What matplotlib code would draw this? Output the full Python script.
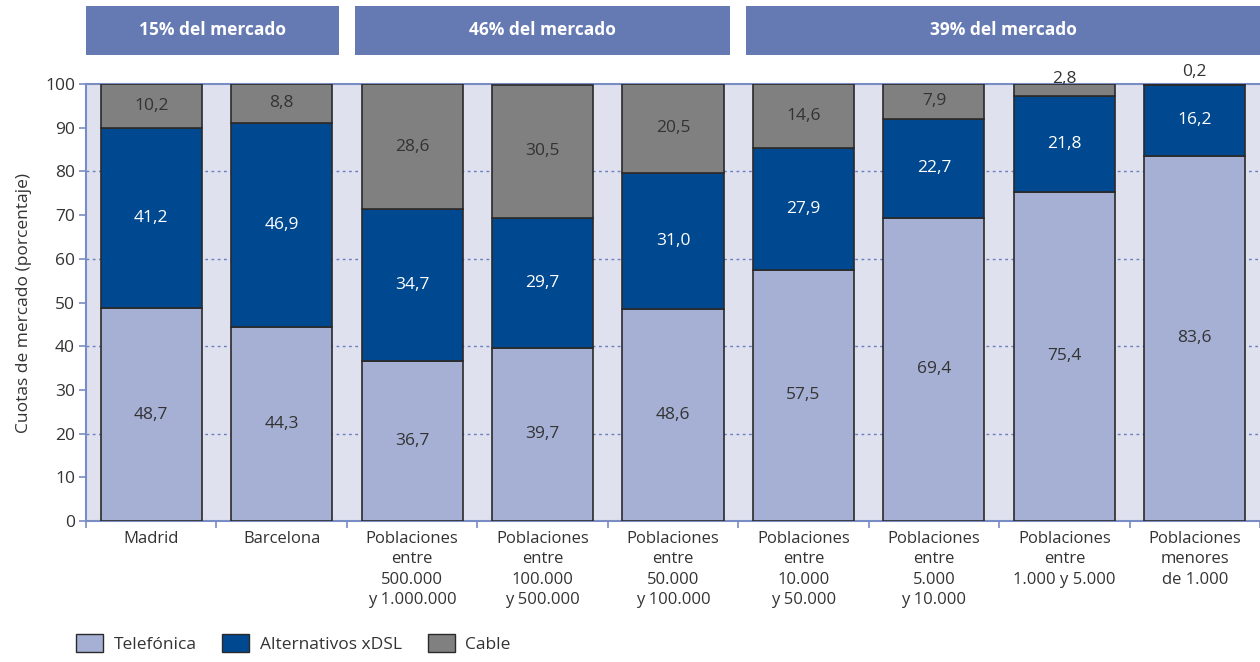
import matplotlib.pyplot as plt
from matplotlib.patches import Rectangle, Patch
from matplotlib.transforms import blended_transform_factory
import numpy as np

plt.rcParams['font.family'] = ['Open Sans', 'DejaVu Sans']

categorias = ["Madrid", "Barcelona",
              "Poblaciones\nentre\n500.000\ny 1.000.000",
              "Poblaciones\nentre\n100.000\ny 500.000",
              "Poblaciones\nentre\n50.000\ny 100.000",
              "Poblaciones\nentre\n10.000\ny 50.000",
              "Poblaciones\nentre\n5.000\ny 10.000",
              "Poblaciones\nentre\n1.000 y 5.000",
              "Poblaciones\nmenores\nde 1.000"]
telefonica = [48.7, 44.3, 36.7, 39.7, 48.6, 57.5, 69.4, 75.4, 83.6]
alternativos = [41.2, 46.9, 34.7, 29.7, 31.0, 27.9, 22.7, 21.8, 16.2]
cable = [10.2, 8.8, 28.6, 30.5, 20.5, 14.6, 7.9, 2.8, 0.2]
grupos = ["15% del mercado", "46% del mercado", "39% del mercado"]
grupos_n = [2, 3, 4]

c_tel = "#a5b0d4"
c_alt = "#004990"
c_cab = "#808080"
c_axis = "#7a8cc4"
c_head = "#6579b3"
c_txt = "#333333"
fs = 12.5

fig = plt.figure(figsize=(12.6, 6.62), dpi=100)
ax = fig.add_axes([0.0683, 0.213, 0.9317, 0.66])
ax.set_facecolor("#dfe1ee")

x = np.arange(len(categorias))
w = 0.775
tel = np.array(telefonica)
alt = np.array(alternativos)
cab = np.array(cable)

ax.bar(x, tel, w, color=c_tel, edgecolor="#2a2a2a", linewidth=1.2, zorder=3)
ax.bar(x, alt, w, bottom=tel, color=c_alt, edgecolor="#2a2a2a", linewidth=1.2, zorder=3)
ax.bar(x, cab, w, bottom=tel + alt, color=c_cab, edgecolor="#2a2a2a", linewidth=1.2, zorder=3)

def fmt(v):
    return f"{v:.1f}".replace(".", ",")

for i in x:
    ax.text(i, tel[i] / 2, fmt(tel[i]), ha="center", va="center", fontsize=fs, color=c_txt, zorder=4)
    ax.text(i, tel[i] + alt[i] / 2, fmt(alt[i]), ha="center", va="center", fontsize=fs, color="white", zorder=4)
    if cab[i] > 5:
        ax.text(i, tel[i] + alt[i] + cab[i] / 2, fmt(cab[i]), ha="center", va="center",
                fontsize=fs, color=c_txt, zorder=4)
    else:
        # segmentos muy pequeños: etiqueta por encima de la barra
        off = 1.2 if cab[i] > 1 else 2.8
        ax.text(i, 100 + off, fmt(cab[i]), ha="center", va="center",
                fontsize=fs, color=c_txt, zorder=4, clip_on=False)

ax.set_xlim(-0.5, len(categorias) - 0.5)
ax.set_ylim(0, 100)
ax.set_yticks(np.arange(0, 101, 10))
ax.tick_params(axis="y", length=5, color=c_axis, labelsize=fs, labelcolor=c_txt, width=1.2, pad=3)
for g in [20, 40, 60, 80]:
    ax.axhline(g, color="#6a7fc0", linestyle=(0, (2, 2.5)), linewidth=1, zorder=1)

ax.set_xticks(x)
ax.set_xticklabels(categorias, fontsize=12, color=c_txt, linespacing=1.38, va="top")
ax.set_xticks(np.arange(-0.5, len(categorias) - 0.4, 1), minor=True)
ax.tick_params(axis="x", which="major", length=0, pad=7)
ax.tick_params(axis="x", which="minor", length=5, color=c_axis, width=1.2)

for s in ["left", "bottom", "top"]:
    ax.spines[s].set_color(c_axis)
    ax.spines[s].set_linewidth(1.5)
ax.spines["right"].set_visible(False)

ax.set_ylabel("Cuotas de mercado (porcentaje)", fontsize=fs, color=c_txt, labelpad=9)

# cabeceras de grupo
tr = blended_transform_factory(ax.transData, fig.transFigure)
start = -0.5
for nombre, n in zip(grupos, grupos_n):
    end = start + n
    x0 = start + (0.0 if start == -0.5 else 0.06)
    x1 = end - (0.0 if end >= len(categorias) - 0.5 else 0.06)
    fig.patches.append(Rectangle((x0, 0.917), x1 - x0, 0.074, transform=tr,
                                 facecolor=c_head, edgecolor="none"))
    fig.text((x0 + x1) / 2, 0.954, nombre, transform=tr, ha="center", va="center",
             fontsize=fs, fontweight="bold", color="white")
    start = end

handles = [Patch(facecolor=c_tel, edgecolor="#2a2a2a", label="Telefónica"),
           Patch(facecolor=c_alt, edgecolor="#2a2a2a", label="Alternativos xDSL"),
           Patch(facecolor=c_cab, edgecolor="#2a2a2a", label="Cable")]
fig.legend(handles=handles, loc="lower left", bbox_to_anchor=(0.048, -0.01), ncol=3,
           frameon=False, fontsize=fs, handlelength=1.55, handleheight=1.2,
           columnspacing=1.5, handletextpad=0.6, labelcolor=c_txt)

fig.savefig("out.png", dpi=100)
